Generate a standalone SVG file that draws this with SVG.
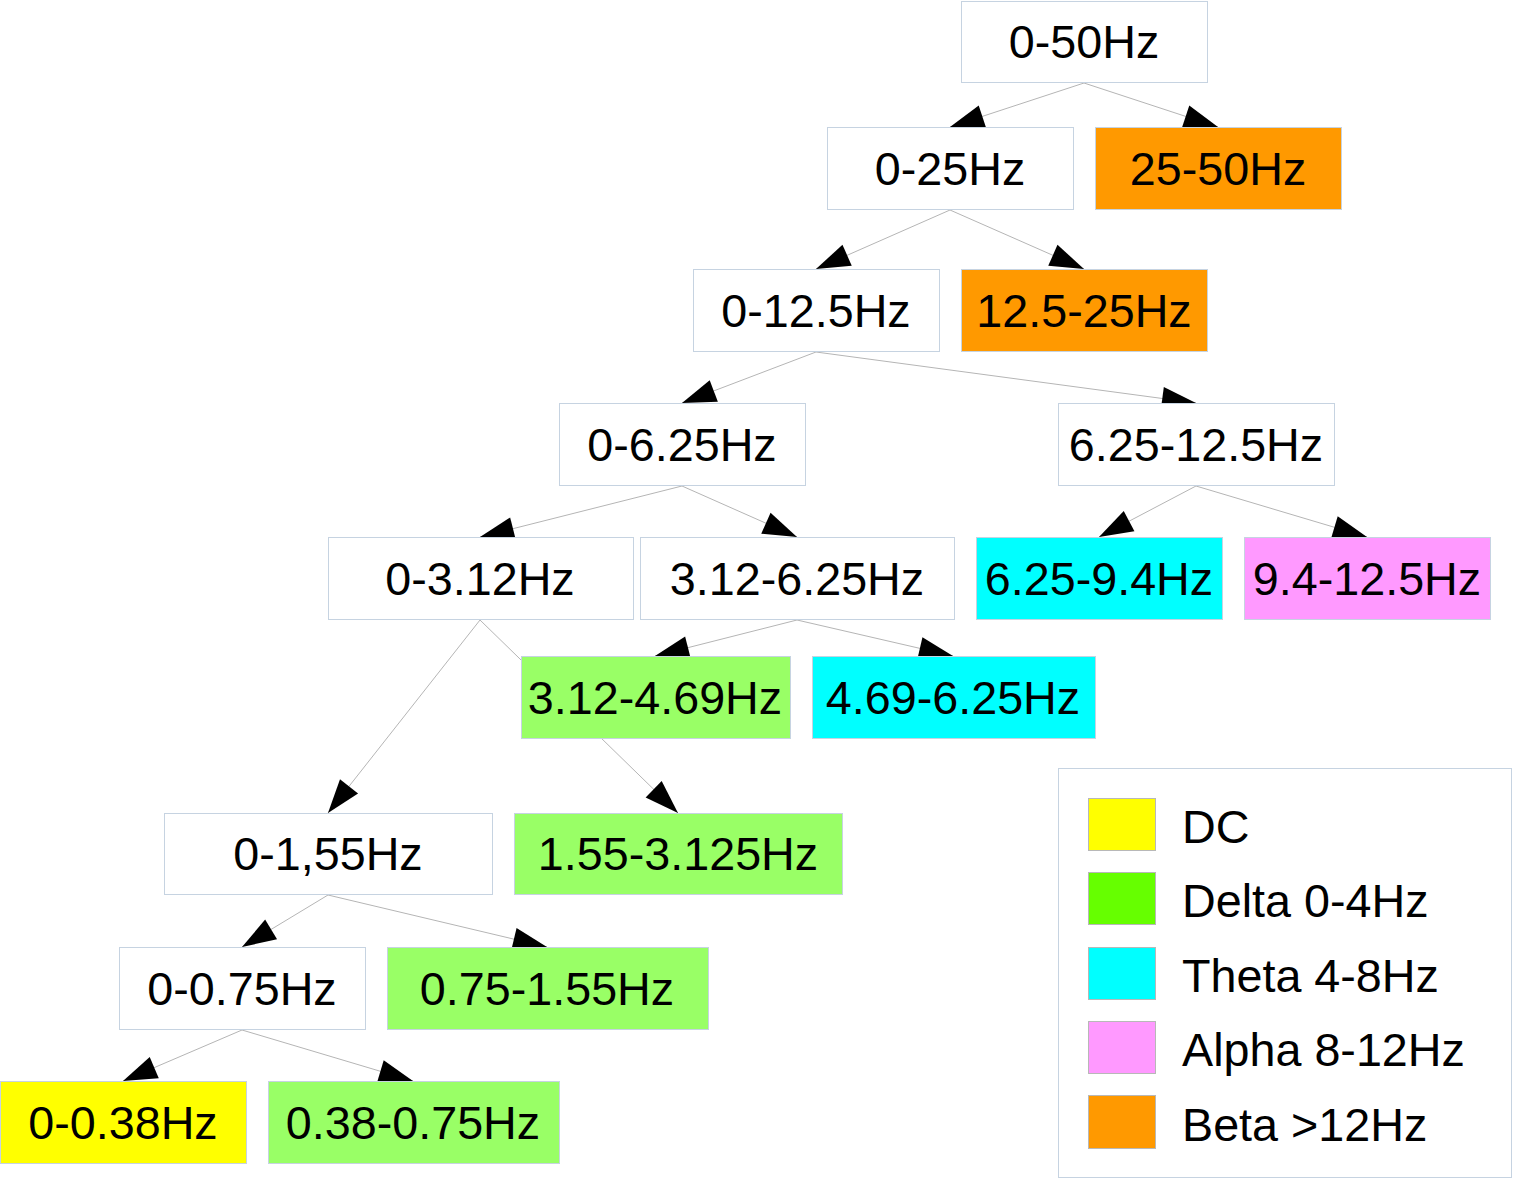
<svg xmlns="http://www.w3.org/2000/svg" width="1513" height="1179" viewBox="0 0 1513 1179">
<style>
  .box { stroke: #c6d3e1; stroke-width: 1; fill: #ffffff; }
  .orange { fill: #ff9900; }
  .green { fill: #99ff66; }
  .cyan { fill: #00ffff; }
  .pink { fill: #ff99ff; }
  .yellow { fill: #ffff00; }
  .lbl { font-family: "Liberation Sans", Arial, sans-serif; font-size: 46.7px; fill: #000000; text-anchor: middle; }
  .leg { font-family: "Liberation Sans", Arial, sans-serif; font-size: 46.7px; fill: #000000; }
  .sw { stroke: #b8b8b8; stroke-width: 1; }
  .conn line { stroke: #b5b5b5; stroke-width: 1; fill: none; marker-end: url(#arr); }
</style>
<defs>
  <marker id="arr" markerUnits="userSpaceOnUse" markerWidth="40" markerHeight="30" refX="34" refY="12" orient="auto" overflow="visible">
    <path d="M0,0.5 L34,12 L0,23.5 z" fill="#000000"/>
  </marker>
</defs>
<rect width="1513" height="1179" fill="#ffffff"/>
<g id="connectors" class="conn">
  <line x1="1084" y1="83" x2="950" y2="127"/>
  <line x1="1084" y1="83" x2="1218" y2="127"/>
  <line x1="950" y1="210" x2="816" y2="269"/>
  <line x1="950" y1="210" x2="1084" y2="269"/>
  <line x1="816" y1="352" x2="682" y2="403"/>
  <line x1="816" y1="352" x2="1196" y2="403"/>
  <line x1="682" y1="486" x2="480" y2="537"/>
  <line x1="682" y1="486" x2="797" y2="537"/>
  <line x1="1196" y1="486" x2="1099" y2="537"/>
  <line x1="1196" y1="486" x2="1367" y2="537"/>
  <line x1="797" y1="620" x2="655" y2="656"/>
  <line x1="797" y1="620" x2="953" y2="656"/>
  <line x1="480" y1="620" x2="328" y2="813"/>
  <line x1="480" y1="620" x2="678" y2="813"/>
  <line x1="328" y1="895" x2="242" y2="947"/>
  <line x1="328" y1="895" x2="547" y2="947"/>
  <line x1="242" y1="1030" x2="123" y2="1081"/>
  <line x1="242" y1="1030" x2="413" y2="1081"/>
</g>
<g id="n-0-50"><rect class="box" x="961.5" y="1.5" width="246" height="81"/><text class="lbl" x="1084" y="58">0-50Hz</text></g>
<g id="n-0-25"><rect class="box" x="827.5" y="127.5" width="246" height="82"/><text class="lbl" x="950" y="185">0-25Hz</text></g>
<g id="n-25-50"><rect class="box orange" x="1095.5" y="127.5" width="246" height="82"/><text class="lbl" x="1218" y="185">25-50Hz</text></g>
<g id="n-0-12.5"><rect class="box" x="693.5" y="269.5" width="246" height="82"/><text class="lbl" x="816" y="327">0-12.5Hz</text></g>
<g id="n-12.5-25"><rect class="box orange" x="961.5" y="269.5" width="246" height="82"/><text class="lbl" x="1084" y="327">12.5-25Hz</text></g>
<g id="n-0-6.25"><rect class="box" x="559.5" y="403.5" width="246" height="82"/><text class="lbl" x="682" y="461">0-6.25Hz</text></g>
<g id="n-6.25-12.5"><rect class="box" x="1058.5" y="403.5" width="276" height="82"/><text class="lbl" x="1196" y="461">6.25-12.5Hz</text></g>
<g id="n-0-3.12"><rect class="box" x="328.5" y="537.5" width="305" height="82"/><text class="lbl" x="480" y="595">0-3.12Hz</text></g>
<g id="n-3.12-6.25"><rect class="box" x="640.5" y="537.5" width="314" height="82"/><text class="lbl" x="797" y="595">3.12-6.25Hz</text></g>
<g id="n-6.25-9.4"><rect class="box cyan" x="976.5" y="537.5" width="246" height="82"/><text class="lbl" x="1099" y="595">6.25-9.4Hz</text></g>
<g id="n-9.4-12.5"><rect class="box pink" x="1244.5" y="537.5" width="246" height="82"/><text class="lbl" x="1367" y="595">9.4-12.5Hz</text></g>
<g id="n-3.12-4.69"><rect class="box green" x="521.5" y="656.5" width="269" height="82"/><text class="lbl" x="655" y="714">3.12-4.69Hz</text></g>
<g id="n-4.69-6.25"><rect class="box cyan" x="812.5" y="656.5" width="283" height="82"/><text class="lbl" x="953" y="714">4.69-6.25Hz</text></g>
<g id="n-0-1.55"><rect class="box" x="164.5" y="813.5" width="328" height="81"/><text class="lbl" x="328" y="870">0-1,55Hz</text></g>
<g id="n-1.55-3.125"><rect class="box green" x="514.5" y="813.5" width="328" height="81"/><text class="lbl" x="678" y="870">1.55-3.125Hz</text></g>
<g id="n-0-0.75"><rect class="box" x="119.5" y="947.5" width="246" height="82"/><text class="lbl" x="242" y="1005">0-0.75Hz</text></g>
<g id="n-0.75-1.55"><rect class="box green" x="387.5" y="947.5" width="321" height="82"/><text class="lbl" x="547" y="1005">0.75-1.55Hz</text></g>
<g id="n-0-0.38"><rect class="box yellow" x="0.5" y="1081.5" width="246" height="82"/><text class="lbl" x="123" y="1139">0-0.38Hz</text></g>
<g id="n-0.38-0.75"><rect class="box green" x="268.5" y="1081.5" width="291" height="82"/><text class="lbl" x="413" y="1139">0.38-0.75Hz</text></g>
<g id="legend">
  <rect class="box" x="1058.5" y="768.5" width="453" height="409"/>
  <rect class="sw" x="1088.5" y="798.5" width="67" height="52" fill="#ffff00"/>
  <text class="leg" x="1182" y="843">DC</text>
  <rect class="sw" x="1088.5" y="872.5" width="67" height="52" fill="#66ff00"/>
  <text class="leg" x="1182" y="917">Delta 0-4Hz</text>
  <rect class="sw" x="1088.5" y="947.5" width="67" height="52" fill="#00ffff"/>
  <text class="leg" x="1182" y="992">Theta 4-8Hz</text>
  <rect class="sw" x="1088.5" y="1021.5" width="67" height="52" fill="#ff99ff"/>
  <text class="leg" x="1182" y="1066">Alpha 8-12Hz</text>
  <rect class="sw" x="1088.5" y="1095.5" width="67" height="53" fill="#ff9900"/>
  <text class="leg" x="1182" y="1141">Beta &gt;12Hz</text>
</g>
</svg>
